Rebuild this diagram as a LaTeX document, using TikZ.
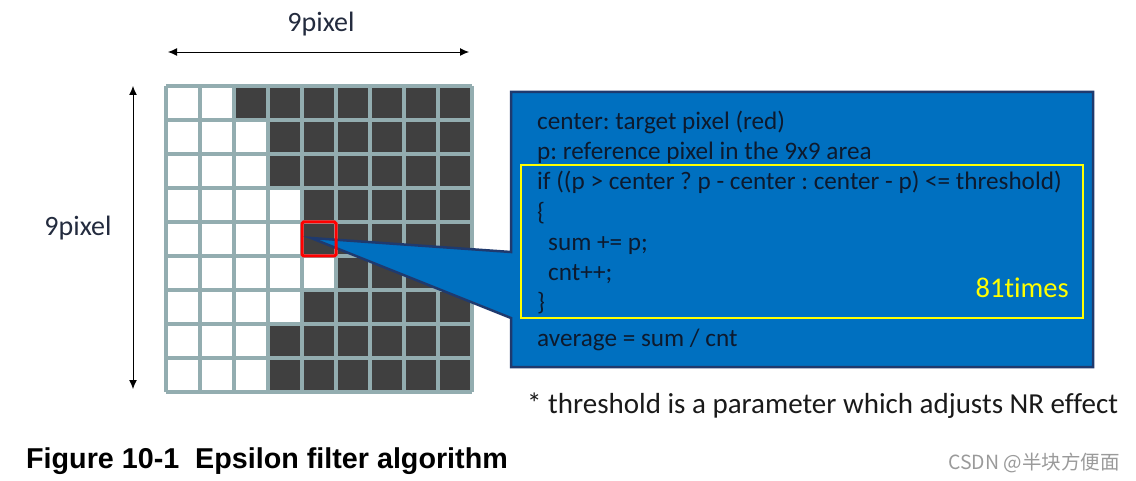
\documentclass[tikz,border=0pt]{standalone}
\usepackage{fontspec}
\setmainfont{Carlito}[Ligatures=NoCommon]
\newfontfamily\arialfont{Liberation Sans}
\newfontfamily\cjkfont{Noto Sans CJK SC}
\usetikzlibrary{arrows.meta}
\definecolor{gridline}{HTML}{93ADB0}
\definecolor{darkcell}{HTML}{404040}
\definecolor{boxblue}{HTML}{0070C0}
\definecolor{boxedge}{HTML}{1F3A6E}
\definecolor{ylw}{HTML}{FFFF00}
\definecolor{txtdark}{HTML}{0D1A2E}
\definecolor{foottxt}{HTML}{1A1A1A}
\definecolor{dimtxt}{HTML}{232B3E}
\definecolor{wmark}{HTML}{9A9A9A}
\tikzset{
  boxtext/.style={anchor=base west, inner sep=0pt, text=txtdark, font=\fontsize{25.2}{28}\selectfont\frenchspacing},
  dimlabel/.style={inner sep=0pt, text=dimtxt, font=\fontsize{28}{32}\selectfont},
  dimarrow/.style={<->, >={Latex[length=9pt,width=8pt]}, line width=0.9pt, black},
}
\begin{document}
\begin{tikzpicture}[x=1pt,y=-1pt]
\useasboundingbox (0,0) rectangle (1136,481);
% grid cells
\def\cs{34}
\def\gx{166}
\def\gy{86}
\fill[white] (\gx,\gy) rectangle ++(9*\cs,9*\cs);
% number of white cells per row
\foreach \r/\w in {1/2,2/3,3/3,4/4,5/4,6/5,7/4,8/3,9/3}{
  \fill[darkcell] ({\gx+\w*\cs},{\gy+(\r-1)*\cs}) rectangle ({\gx+9*\cs},{\gy+\r*\cs});
}
\foreach \i in {0,...,9}{
  \draw[gridline, line width=3.5pt] ({\gx+\i*\cs},\gy) -- ({\gx+\i*\cs},{\gy+9*\cs});
  \draw[gridline, line width=3.5pt] (\gx,{\gy+\i*\cs}) -- ({\gx+9*\cs},{\gy+\i*\cs});
}
% dimension arrows
\coordinate (hl) at (168,52);
\coordinate (hr) at (469,52);
\draw[dimarrow] (hl) -- (hr);
\node[dimlabel] (toplabel) at (321,24) {9pixel};
\coordinate (vt) at (133,86);
\coordinate (vb) at (133,389);
\draw[dimarrow] (vt) -- (vb);
\node[dimlabel] (leftlabel) at (78,228) {9pixel};
% callout box
\coordinate (tip) at (311,238);
\filldraw[fill=boxblue, draw=boxedge, line width=2.5pt, line join=miter]
  (511,92) -- (1093,92) -- (1093,367) -- (511,367) -- (511,318) -- (tip) -- (511,252) -- cycle;
% red target
\draw[red, line width=3pt, rounded corners=1.5pt] (302,222) rectangle (336,256);
% yellow loop box
\draw[ylw, line width=2.5pt] (521,165) rectangle (1083,318);
% box texts
\node[boxtext] (l1) at (537,130) {center: target pixel (red)};
\node[boxtext] (l2) at (537,160) {p: reference pixel in the 9x9 area};
\node[boxtext] (l3) at (537,190) {if ((p > center ? p - center : center - p) <= threshold)};
\node[boxtext] (l4) at (537,221) {\{};
\node[boxtext] (l5) at (548,251) {sum += p;};
\node[boxtext] (l6) at (548,281) {cnt++;};
\node[boxtext] (l7) at (537,310) {\}};
\node[boxtext] (l8) at (537,346) {average = sum / cnt};
\node[anchor=base east, inner sep=0pt, text=ylw, font=\fontsize{28.5}{32}\selectfont] (times) at (1069,298) {81times};
% footnote
\node[anchor=base west, inner sep=0pt, text=foottxt, font=\fontsize{29}{32}\selectfont] (foot) at (527,413) {* threshold is a parameter which adjusts NR effect};
% caption
\node[anchor=base west, inner sep=0pt, text=black, font=\arialfont\bfseries\fontsize{28.7}{32}\selectfont] (cap) at (26,468) {Figure 10-1\ \ Epsilon filter algorithm};
% watermark
\node[anchor=base east, inner sep=0pt, text=wmark, font=\cjkfont\fontsize{19.5}{22}\selectfont] (wm) at (1120,469) {CSDN @半块方便面};
\end{tikzpicture}
\end{document}
